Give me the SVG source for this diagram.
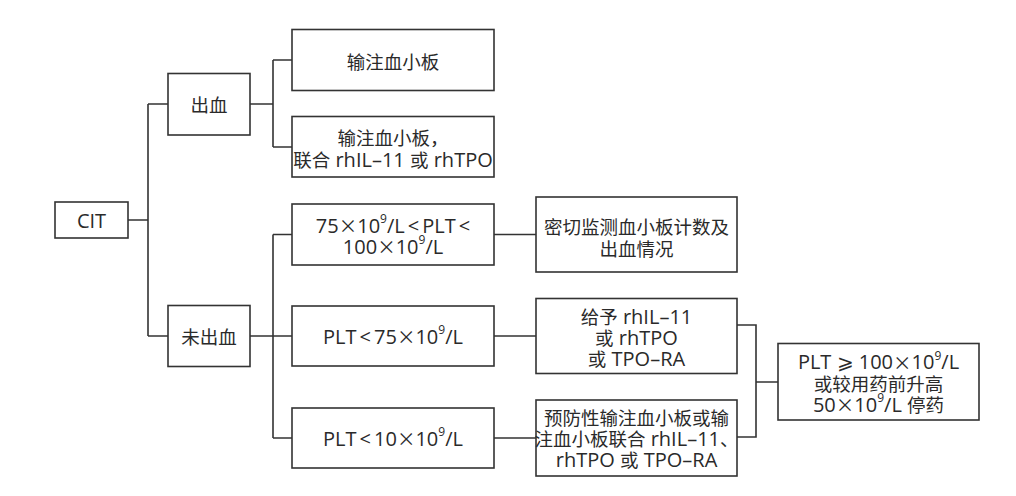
<svg xmlns="http://www.w3.org/2000/svg" width="1016" height="496" viewBox="0 0 1016 496">
<style>
.box{fill:#fff;stroke:#333;stroke-width:1.6}
.ln{fill:none;stroke:#333;stroke-width:1.6}
text{font-family:"Open Sans","Noto Sans CJK SC",sans-serif;font-size:20px;fill:#2a2a2a;text-anchor:middle;dominant-baseline:central}
.c{font-size:18.5px}
.s{font-family:"Noto Sans CJK SC",sans-serif;font-size:18.5px}
.sup{font-size:12px;baseline-shift:7px}
</style>
<rect width="1016" height="496" fill="#fff"/>
<g id="connectors">
<path class="ln" d="M128,220H148M148,104V336M148,104H168M148,336H168"/>
<path class="ln" d="M250,104H273M273,60V147M273,60H292M273,147H292"/>
<path class="ln" d="M250,336H292M273,234.5V438M273,234.5H292M273,438H292"/>
<path class="ln" d="M494,234.5H536M494,336H536M494,438H536"/>
<path class="ln" d="M737,325H756V437H737M756,382H778"/>
</g>
<g id="n-cit"><rect class="box" x="55" y="202" width="73" height="36"/><text x="91.5" y="220">CIT</text></g>
<g id="n-bleed"><rect class="box" x="168" y="73.5" width="82" height="61.5"/><text class="c" x="209" y="104">出血</text></g>
<g id="n-nobleed"><rect class="box" x="168" y="305.5" width="82" height="61"/><text class="c" x="209" y="336">未出血</text></g>
<g id="n-plt-tx"><rect class="box" x="292" y="29.5" width="202" height="61"/><text class="c" x="393" y="61">输注血小板</text></g>
<g id="n-plt-combo"><rect class="box" x="292" y="116.5" width="202" height="60.5"/><text x="393" y="136.5"><tspan class="c">输注血小板，</tspan><tspan x="393" y="159"><tspan class="c">联合</tspan> rhIL–11 <tspan class="c">或</tspan> rhTPO</tspan></text></g>
<g id="n-75-100"><rect class="box" x="292" y="204" width="202" height="61"/><text x="393" y="225">75<tspan class="s">×</tspan>10<tspan class="sup">9</tspan>/L<tspan dx="3">&lt;</tspan><tspan dx="3">PLT</tspan><tspan dx="3">&lt;</tspan><tspan x="393" y="245.5">100<tspan class="s">×</tspan>10<tspan class="sup">9</tspan>/L</tspan></text></g>
<g id="n-lt75"><rect class="box" x="292" y="306" width="202" height="60"/><text x="393" y="336">PLT<tspan dx="3">&lt;</tspan><tspan dx="3">75</tspan><tspan class="s">×</tspan>10<tspan class="sup">9</tspan>/L</text></g>
<g id="n-lt10"><rect class="box" x="292" y="408" width="202" height="60"/><text x="393" y="438">PLT<tspan dx="3">&lt;</tspan><tspan dx="3">10</tspan><tspan class="s">×</tspan>10<tspan class="sup">9</tspan>/L</text></g>
<g id="n-monitor"><rect class="box" x="536" y="197" width="201" height="75"/><text class="c" x="636.5" y="226.5">密切监测血小板计数及<tspan x="636.5" y="247.5">出血情况</tspan></text></g>
<g id="n-give"><rect class="box" x="536" y="298.5" width="201" height="75"/><text x="636.5" y="316"><tspan class="c">给予</tspan> rhIL–11<tspan x="636.5" y="337"><tspan class="c">或</tspan> rhTPO</tspan><tspan x="636.5" y="358"><tspan class="c">或</tspan> TPO–RA</tspan></text></g>
<g id="n-prevent"><rect class="box" x="536" y="400" width="201" height="76"/><text x="636.5" y="416.5"><tspan class="c">预防性输注血小板或输</tspan><tspan x="636.5" y="438"><tspan class="c">注血小板联合</tspan> rhIL–11<tspan class="c">、</tspan></tspan><tspan x="636.5" y="458.5">rhTPO <tspan class="c">或</tspan> TPO–RA</tspan></text></g>
<g id="n-stop"><rect class="box" x="778" y="343.5" width="201" height="76.5"/><text x="878.5" y="361.5">PLT ⩾ 100<tspan class="s">×</tspan>10<tspan class="sup">9</tspan>/L<tspan x="878.5" y="383" class="c">或较用药前升高</tspan><tspan x="878.5" y="404">50<tspan class="s">×</tspan>10<tspan class="sup">9</tspan>/L <tspan class="c">停药</tspan></tspan></text></g>
</svg>
